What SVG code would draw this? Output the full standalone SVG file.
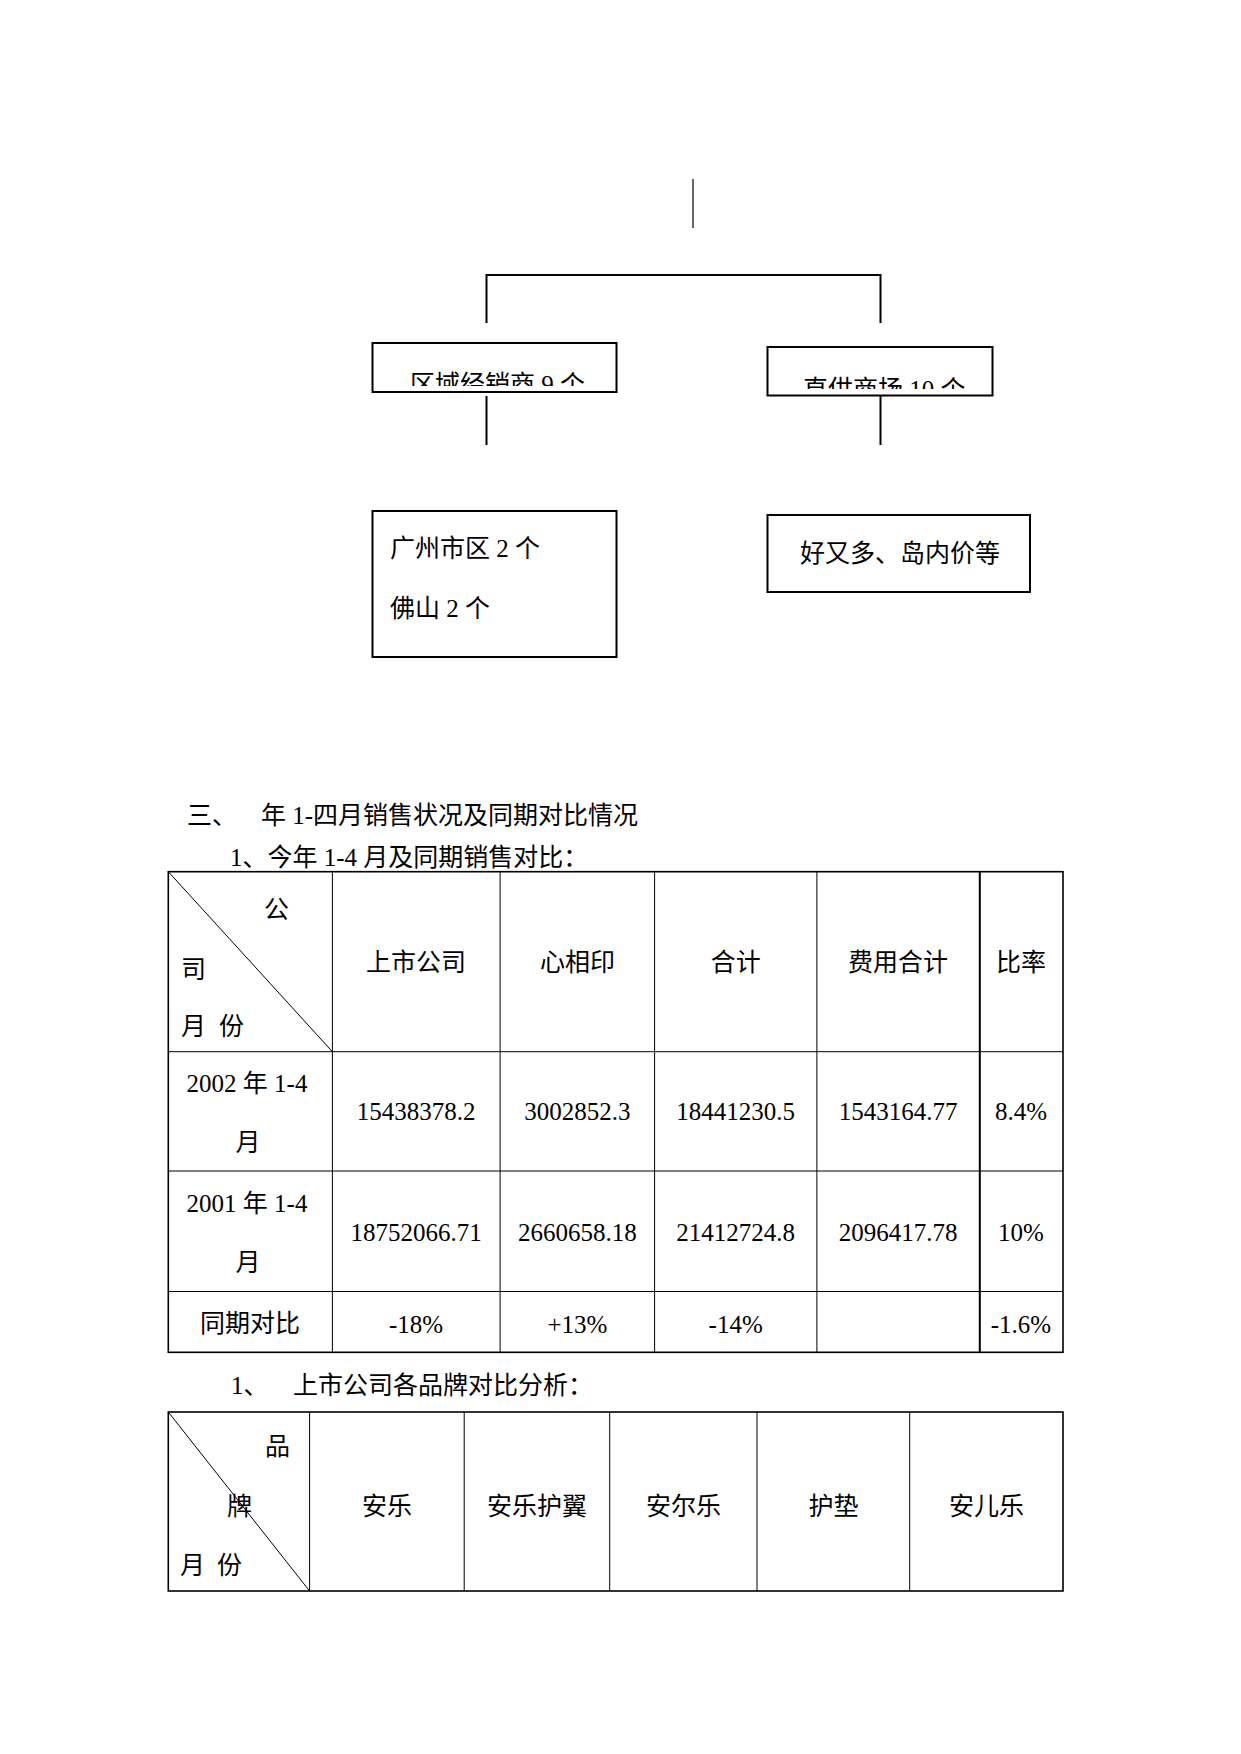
<svg xmlns="http://www.w3.org/2000/svg" width="1241" height="1754" viewBox="0 0 1241 1754">
<style>
.bg{fill:#fff}
.box{fill:#fff;stroke:#000;stroke-width:2}
.con{fill:none;stroke:#000;stroke-width:2}
.thin{fill:none;stroke:#000;stroke-width:1.2}
.grid{fill:none;stroke:#000;stroke-width:1}
.bold{fill:none;stroke:#000;stroke-width:2}
.outer{fill:none;stroke:#000;stroke-width:1.6}
.diag{fill:none;stroke:#000;stroke-width:1}
text{font-size:25px;fill:#000}
.sans{font-family:"Noto Sans CJK SC","Liberation Sans",sans-serif}
.ser{font-family:"Liberation Serif","Noto Sans CJK SC",serif}
.mid{text-anchor:middle}
</style>
<defs>
<clipPath id="c1"><rect x="373" y="344" width="243" height="42"/></clipPath>
<clipPath id="c2"><rect x="768" y="348" width="224" height="41"/></clipPath>
</defs>
<rect class="bg" x="0" y="0" width="1241" height="1754"/>

<g id="connectors">
<line class="thin" x1="693" y1="179" x2="693" y2="228"/>
<polyline class="con" points="486.5,323 486.5,275 880.5,275 880.5,323"/>
<line class="con" x1="486.5" y1="396" x2="486.5" y2="445"/>
<line class="con" x1="880.5" y1="396" x2="880.5" y2="445"/>
</g>

<g id="node-regional">
<rect class="box" x="372.5" y="343" width="244" height="49"/>
<text class="ser" x="410" y="392.5" clip-path="url(#c1)">区域经销商 9 个</text>
</g>

<g id="node-direct">
<rect class="box" x="767.5" y="347" width="225" height="48.5"/>
<text class="ser" x="803" y="397.5" clip-path="url(#c2)">直供商场 10 个</text>
</g>

<g id="node-cities">
<rect class="box" x="372.5" y="511" width="244" height="146"/>
<text class="ser" x="390" y="557">广州市区 2 个</text>
<text class="ser" x="390" y="617">佛山 2 个</text>
</g>

<g id="node-stores">
<rect class="box" x="767.5" y="515" width="262.5" height="77"/>
<text class="ser" x="800" y="562">好又多、岛内价等</text>
</g>

<g id="headings">
<text class="ser" x="187" y="824">三、</text>
<text class="ser" x="261" y="824">年 1-四月销售状况及同期对比情况</text>
<text class="ser" x="230" y="866">1、今年 1-4 月及同期销售对比：</text>
<text class="ser" x="231" y="1394">1、</text>
<text class="ser" x="293" y="1394">上市公司各品牌对比分析：</text>
</g>

<g id="table1">
<rect class="outer" x="168.3" y="871.7" width="894.7" height="480.6"/>
<line class="grid" x1="168.3" y1="1051.7" x2="1063" y2="1051.7"/>
<line class="grid" x1="168.3" y1="1171" x2="1063" y2="1171"/>
<line class="grid" x1="168.3" y1="1291.5" x2="1063" y2="1291.5"/>
<line class="grid" x1="332.4" y1="871.7" x2="332.4" y2="1352.3"/>
<line class="grid" x1="500.1" y1="871.7" x2="500.1" y2="1352.3"/>
<line class="grid" x1="654.6" y1="871.7" x2="654.6" y2="1352.3"/>
<line class="grid" x1="816.9" y1="871.7" x2="816.9" y2="1352.3"/>
<line class="bold" x1="979.8" y1="871.7" x2="979.8" y2="1352.3"/>
<line class="diag" x1="168.3" y1="871.7" x2="332.4" y2="1051.7"/>
<text class="sans" x="264" y="918">公</text>
<text class="sans" x="181" y="978">司</text>
<text class="sans" x="181" y="1035">月</text>
<text class="sans" x="219" y="1035">份</text>
<text class="sans mid" x="416" y="971">上市公司</text>
<text class="sans mid" x="577.4" y="971">心相印</text>
<text class="sans mid" x="735.7" y="971">合计</text>
<text class="sans mid" x="898" y="971">费用合计</text>
<text class="sans mid" x="1021" y="971">比率</text>

<text class="ser mid" x="247" y="1092">2002 年 1-4</text>
<text class="ser mid" x="248" y="1151">月</text>
<text class="ser mid" x="416" y="1120">15438378.2</text>
<text class="ser mid" x="577.4" y="1120">3002852.3</text>
<text class="ser mid" x="735.7" y="1120">18441230.5</text>
<text class="ser mid" x="898" y="1120">1543164.77</text>
<text class="ser mid" x="1021" y="1120">8.4%</text>

<text class="ser mid" x="247" y="1212">2001 年 1-4</text>
<text class="ser mid" x="248" y="1271">月</text>
<text class="ser mid" x="416" y="1241">18752066.71</text>
<text class="ser mid" x="577.4" y="1241">2660658.18</text>
<text class="ser mid" x="735.7" y="1241">21412724.8</text>
<text class="ser mid" x="898" y="1241">2096417.78</text>
<text class="ser mid" x="1021" y="1241">10%</text>

<text class="sans mid" x="250" y="1332">同期对比</text>
<text class="ser mid" x="416" y="1333">-18%</text>
<text class="ser mid" x="577.4" y="1333">+13%</text>
<text class="ser mid" x="735.7" y="1333">-14%</text>
<text class="ser mid" x="1021" y="1333">-1.6%</text>
</g>

<g id="table2">
<rect class="outer" x="168.3" y="1412" width="894.7" height="179"/>
<line class="grid" x1="309.6" y1="1412" x2="309.6" y2="1591"/>
<line class="grid" x1="464.2" y1="1412" x2="464.2" y2="1591"/>
<line class="grid" x1="609.7" y1="1412" x2="609.7" y2="1591"/>
<line class="grid" x1="757" y1="1412" x2="757" y2="1591"/>
<line class="grid" x1="909.7" y1="1412" x2="909.7" y2="1591"/>
<line class="diag" x1="168.3" y1="1412" x2="309.6" y2="1591"/>
<text class="sans" x="265" y="1455">品</text>
<text class="sans" x="227" y="1515">牌</text>
<text class="sans" x="180" y="1574">月</text>
<text class="sans" x="217" y="1574">份</text>
<text class="sans mid" x="387" y="1515">安乐</text>
<text class="sans mid" x="537" y="1515">安乐护翼</text>
<text class="sans mid" x="683.4" y="1515">安尔乐</text>
<text class="sans mid" x="833.4" y="1515">护垫</text>
<text class="sans mid" x="986.4" y="1515">安儿乐</text>
</g>
</svg>
